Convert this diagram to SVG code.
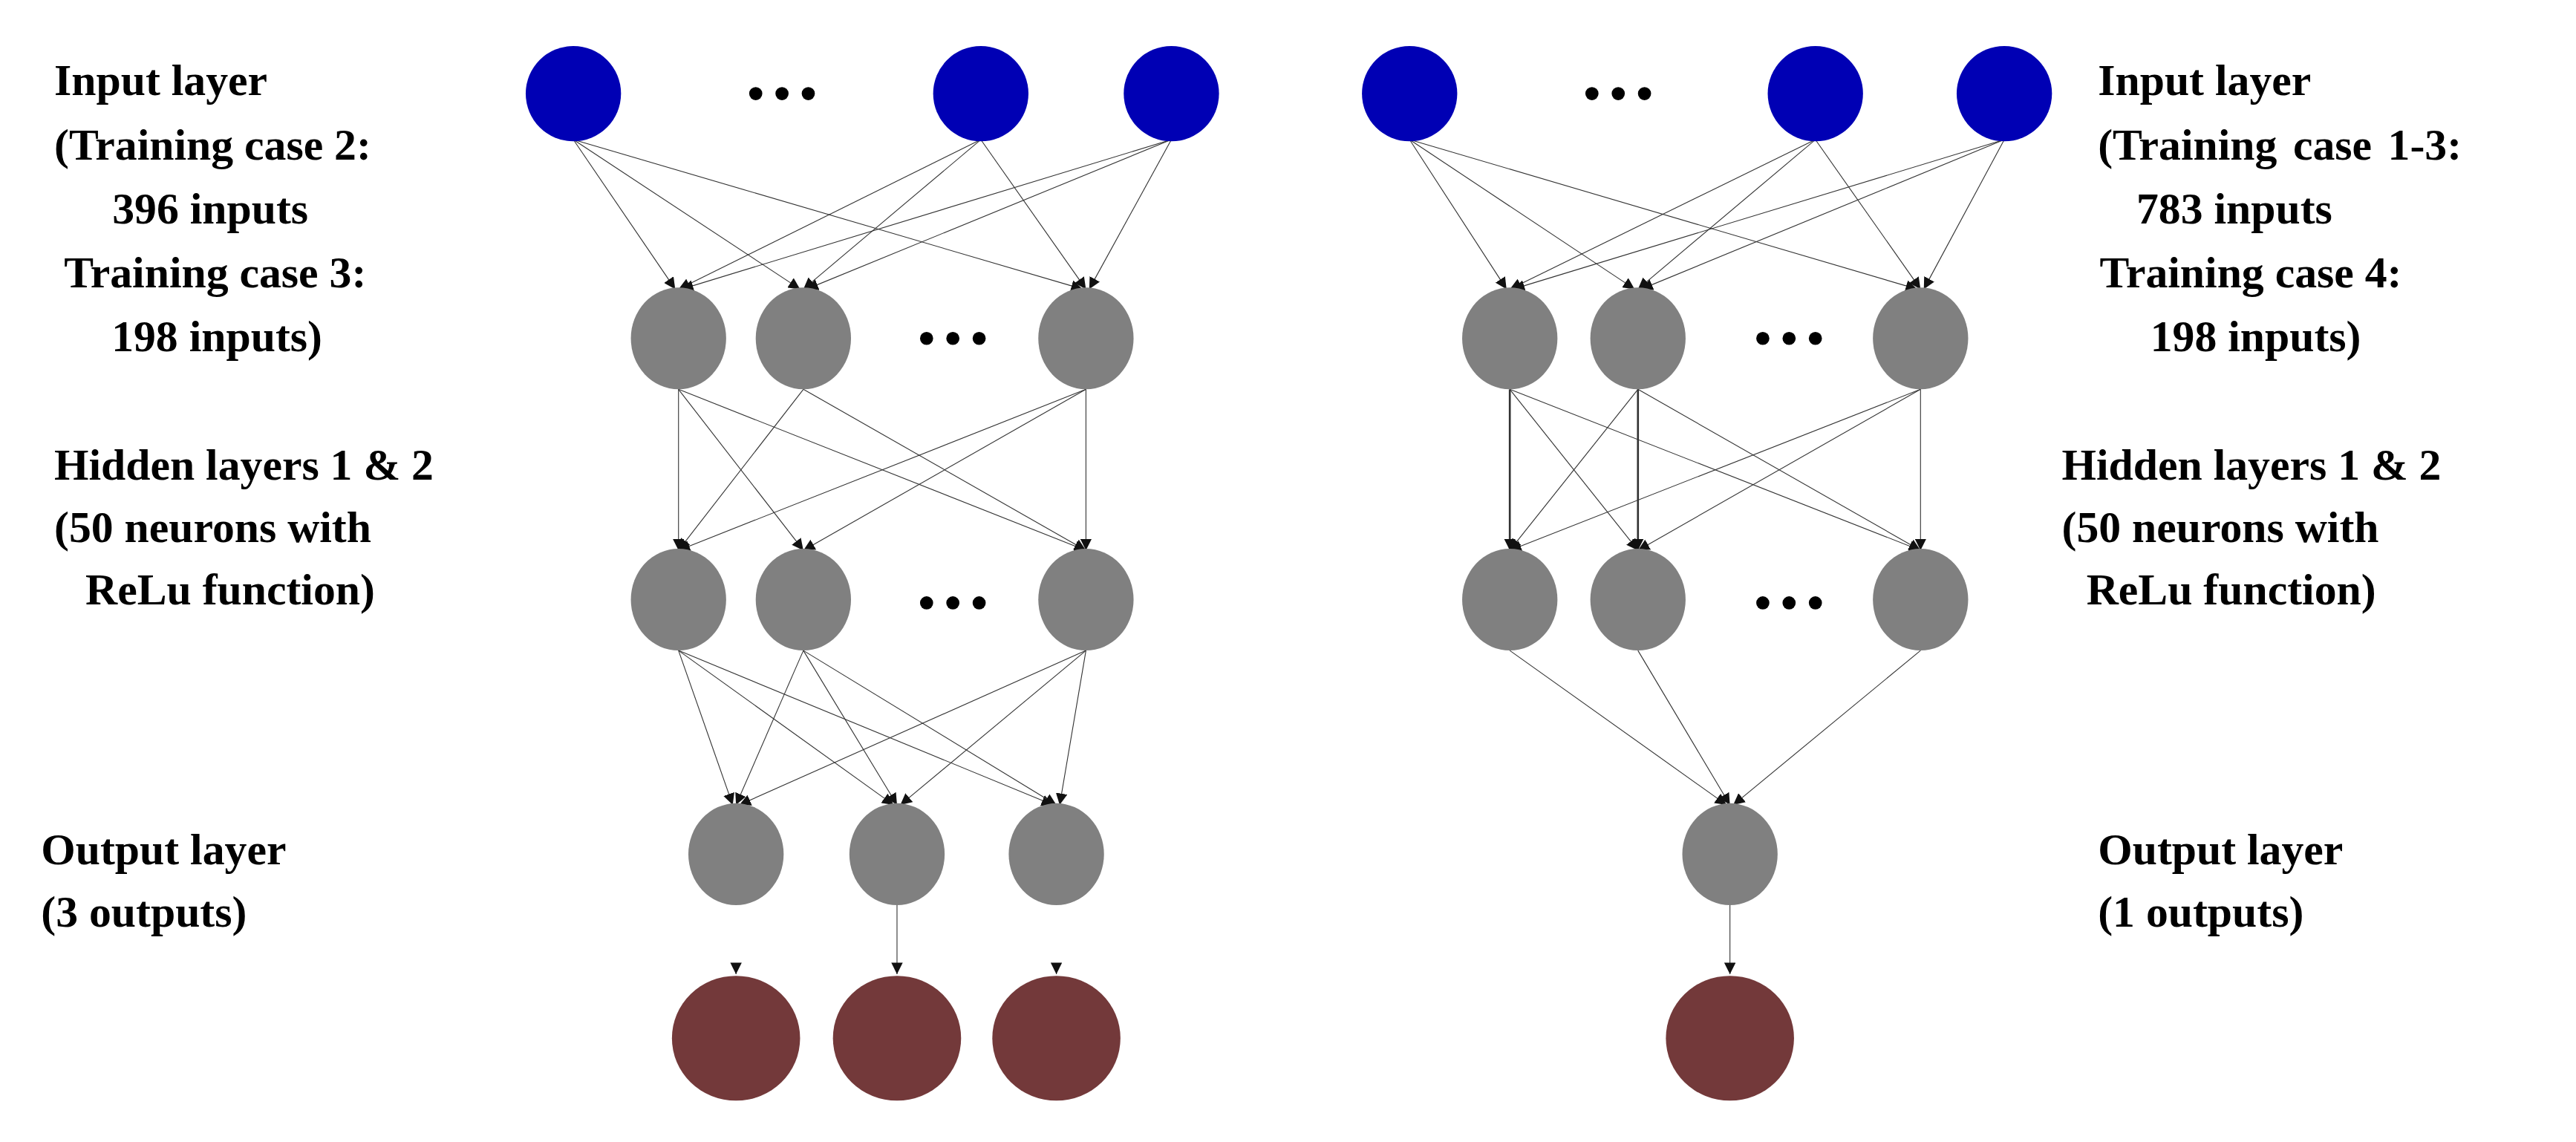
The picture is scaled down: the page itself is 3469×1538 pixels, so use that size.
<svg xmlns="http://www.w3.org/2000/svg" width="3469" height="1538" viewBox="0 0 3469 1538">
<style>
.in{fill:#0000b4}.hd{fill:#808080}.fo{fill:#73393a}
.e line{stroke:#333;stroke-width:0.5;marker-end:url(#a)}
.t{font-family:"Liberation Serif",serif;font-weight:bold;font-size:27px;fill:#000}
.m{text-anchor:middle}
</style>
<defs><marker id="a" viewBox="0 0 10 10" refX="10" refY="5" markerWidth="7" markerHeight="7" markerUnits="userSpaceOnUse" orient="auto"><path d="M0,0L10,5L0,10z" fill="#111"/></marker></defs>
<rect width="3469" height="1538" fill="#fff"/>
<g transform="scale(2.2124)">
<g id="connectors" class="e">
<line x1="349" y1="85" x2="411" y2="176"/><line x1="349" y1="85" x2="487" y2="176"/><line x1="349" y1="85" x2="659" y2="176"/>
<line x1="597" y1="85" x2="413" y2="176"/><line x1="597" y1="85" x2="489" y2="176"/><line x1="597" y1="85" x2="661" y2="176"/>
<line x1="713" y1="85" x2="415" y2="176"/><line x1="713" y1="85" x2="491" y2="176"/><line x1="713" y1="85" x2="663" y2="176"/>
<line x1="413" y1="237" x2="413" y2="335"/><line x1="413" y1="237" x2="489" y2="335"/><line x1="413" y1="237" x2="661" y2="335"/>
<line x1="489" y1="237" x2="413" y2="335"/><line x1="489" y1="237" x2="661" y2="335"/>
<line x1="661" y1="237" x2="413" y2="335"/><line x1="661" y1="237" x2="489" y2="335"/><line x1="661" y1="237" x2="661" y2="335"/>
<line x1="413" y1="396" x2="446" y2="490"/><line x1="413" y1="396" x2="544" y2="490"/><line x1="413" y1="396" x2="641" y2="490"/>
<line x1="489" y1="396" x2="448" y2="490"/><line x1="489" y1="396" x2="546" y2="490"/><line x1="489" y1="396" x2="643" y2="490"/>
<line x1="661" y1="396" x2="450" y2="490"/><line x1="661" y1="396" x2="548" y2="490"/><line x1="661" y1="396" x2="645" y2="490"/>
<line x1="546" y1="551" x2="546" y2="593"/><line x1="448" y1="588" x2="448" y2="593"/><line x1="643" y1="588" x2="643" y2="593"/>
<line x1="858" y1="85" x2="917" y2="176"/><line x1="858" y1="85" x2="995" y2="176"/><line x1="858" y1="85" x2="1167" y2="176"/>
<line x1="1105" y1="85" x2="919" y2="176"/><line x1="1105" y1="85" x2="997" y2="176"/><line x1="1105" y1="85" x2="1169" y2="176"/>
<line x1="1220" y1="85" x2="921" y2="176"/><line x1="1220" y1="85" x2="999" y2="176"/><line x1="1220" y1="85" x2="1171" y2="176"/>
<line x1="919" y1="237" x2="919" y2="335" style="stroke-width:1.2"/><line x1="919" y1="237" x2="997" y2="335"/><line x1="919" y1="237" x2="1169" y2="335"/>
<line x1="997" y1="237" x2="919" y2="335"/><line x1="997" y1="237" x2="997" y2="335" style="stroke-width:1.2"/><line x1="997" y1="237" x2="1169" y2="335"/>
<line x1="1169" y1="237" x2="919" y2="335"/><line x1="1169" y1="237" x2="997" y2="335"/><line x1="1169" y1="237" x2="1169" y2="335"/>
<line x1="919" y1="396" x2="1051" y2="490"/><line x1="997" y1="396" x2="1053" y2="490"/><line x1="1169" y1="396" x2="1055" y2="490"/>
<line x1="1053" y1="551" x2="1053" y2="593"/>
</g>
<g id="left-input"><ellipse class="in" cx="349" cy="57" rx="29" ry="29"/><ellipse class="in" cx="597" cy="57" rx="29" ry="29"/><ellipse class="in" cx="713" cy="57" rx="29" ry="29"/>
<circle cx="460" cy="57" r="4"/><circle cx="476" cy="57" r="4"/><circle cx="492" cy="57" r="4"/></g>
<g id="left-h1"><ellipse class="hd" cx="413" cy="206" rx="29" ry="31"/><ellipse class="hd" cx="489" cy="206" rx="29" ry="31"/><ellipse class="hd" cx="661" cy="206" rx="29" ry="31"/>
<circle cx="564" cy="206" r="4"/><circle cx="580" cy="206" r="4"/><circle cx="596" cy="206" r="4"/></g>
<g id="left-h2"><ellipse class="hd" cx="413" cy="365" rx="29" ry="31"/><ellipse class="hd" cx="489" cy="365" rx="29" ry="31"/><ellipse class="hd" cx="661" cy="365" rx="29" ry="31"/>
<circle cx="564" cy="367" r="4"/><circle cx="580" cy="367" r="4"/><circle cx="596" cy="367" r="4"/></g>
<g id="left-out"><ellipse class="hd" cx="448" cy="520" rx="29" ry="31"/><ellipse class="hd" cx="546" cy="520" rx="29" ry="31"/><ellipse class="hd" cx="643" cy="520" rx="29" ry="31"/></g>
<g id="left-final"><ellipse class="fo" cx="448" cy="632" rx="39" ry="38"/><ellipse class="fo" cx="546" cy="632" rx="39" ry="38"/><ellipse class="fo" cx="643" cy="632" rx="39" ry="38"/></g>
<g id="right-input"><ellipse class="in" cx="858" cy="57" rx="29" ry="29"/><ellipse class="in" cx="1105" cy="57" rx="29" ry="29"/><ellipse class="in" cx="1220" cy="57" rx="29" ry="29"/>
<circle cx="969" cy="57" r="4"/><circle cx="985" cy="57" r="4"/><circle cx="1001" cy="57" r="4"/></g>
<g id="right-h1"><ellipse class="hd" cx="919" cy="206" rx="29" ry="31"/><ellipse class="hd" cx="997" cy="206" rx="29" ry="31"/><ellipse class="hd" cx="1169" cy="206" rx="29" ry="31"/>
<circle cx="1073" cy="206" r="4"/><circle cx="1089" cy="206" r="4"/><circle cx="1105" cy="206" r="4"/></g>
<g id="right-h2"><ellipse class="hd" cx="919" cy="365" rx="29" ry="31"/><ellipse class="hd" cx="997" cy="365" rx="29" ry="31"/><ellipse class="hd" cx="1169" cy="365" rx="29" ry="31"/>
<circle cx="1073" cy="367" r="4"/><circle cx="1089" cy="367" r="4"/><circle cx="1105" cy="367" r="4"/></g>
<g id="right-out"><ellipse class="hd" cx="1053" cy="520" rx="29" ry="31"/></g>
<g id="right-final"><ellipse class="fo" cx="1053" cy="632" rx="39" ry="38"/></g>
<g id="left-labels" class="t">
<text x="33" y="58">Input layer</text>
<text x="33" y="97">(Training case 2:</text>
<text class="m" x="128" y="136">396 inputs</text>
<text class="m" x="131" y="175">Training case 3:</text>
<text class="m" x="132" y="214">198 inputs)</text>
<text x="33" y="292">Hidden layers 1 &amp; 2</text>
<text x="33" y="330">(50 neurons with</text>
<text x="52" y="368">ReLu function)</text>
<text x="25" y="526">Output layer</text>
<text x="25" y="564">(3 outputs)</text>
</g>
<g id="right-labels" class="t">
<text x="1277" y="58">Input layer</text>
<text x="1277" y="97" word-spacing="3">(Training case 1-3:</text>
<text class="m" x="1360" y="136">783 inputs</text>
<text class="m" x="1370" y="175">Training case 4:</text>
<text class="m" x="1373" y="214">198 inputs)</text>
<text x="1255" y="292">Hidden layers 1 &amp; 2</text>
<text x="1255" y="330">(50 neurons with</text>
<text x="1270" y="368">ReLu function)</text>
<text x="1277" y="526">Output layer</text>
<text x="1277" y="564">(1 outputs)</text>
</g>
</g>
</svg>
